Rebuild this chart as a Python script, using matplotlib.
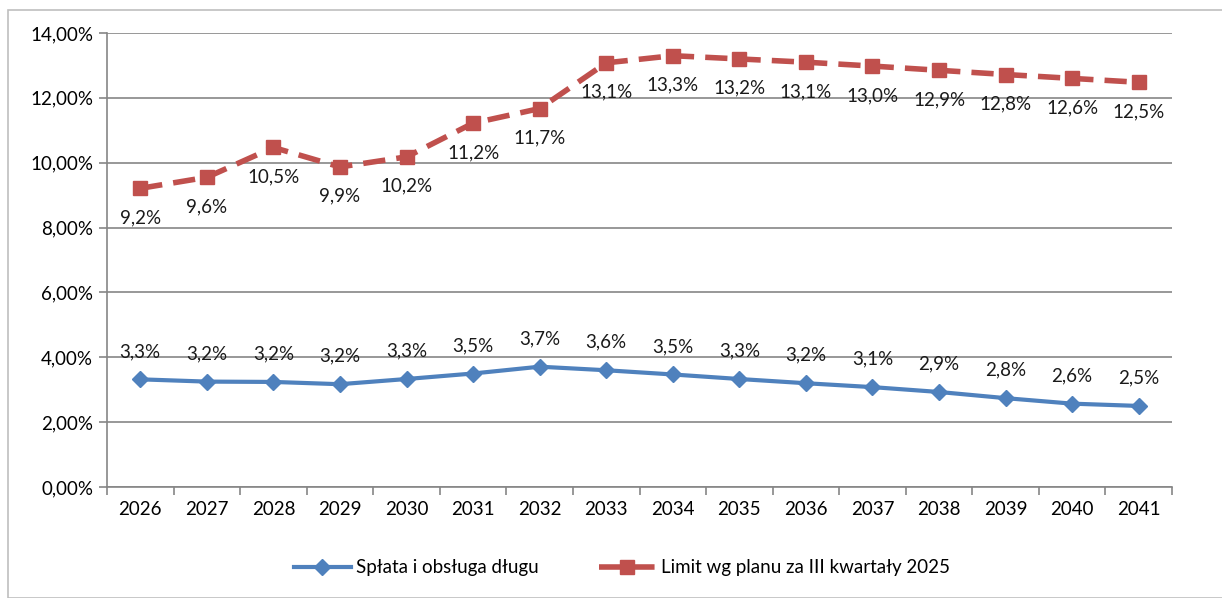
import numpy as np
import matplotlib.pyplot as plt
from matplotlib.patches import Rectangle

years = ['2026', '2027', '2028', '2029', '2030', '2031', '2032', '2033',
         '2034', '2035', '2036', '2037', '2038', '2039', '2040', '2041']
splata = [3.32, 3.25, 3.24, 3.17, 3.33, 3.50, 3.71, 3.60,
          3.47, 3.33, 3.20, 3.08, 2.93, 2.74, 2.57, 2.50]
splata_lbl = ['3,3%', '3,2%', '3,2%', '3,2%', '3,3%', '3,5%', '3,7%', '3,6%',
              '3,5%', '3,3%', '3,2%', '3,1%', '2,9%', '2,8%', '2,6%', '2,5%']
limit = [9.21, 9.55, 10.47, 9.87, 10.18, 11.22, 11.67, 13.08,
         13.30, 13.20, 13.10, 12.98, 12.85, 12.72, 12.60, 12.48]
limit_lbl = ['9,2%', '9,6%', '10,5%', '9,9%', '10,2%', '11,2%', '11,7%', '13,1%',
             '13,3%', '13,2%', '13,1%', '13,0%', '12,9%', '12,8%', '12,6%', '12,5%']

plt.rcParams['font.family'] = ['Lato', 'DejaVu Sans']
grey = '#868686'
blue = '#4F81BD'
red = '#C0504D'
fs = 13.5

fig = plt.figure(figsize=(12.22, 5.98), dpi=100)
fig.patches.append(Rectangle((8/1222, 0), 1.0, 1 - 10/598, transform=fig.transFigure,
                             fill=False, edgecolor='#bfbfbf', linewidth=1.2))
ax = fig.add_axes([107/1222, 1 - 487/598, 1065/1222, 454/598])

x = np.arange(len(years))
ax.plot(x, splata, color=blue, lw=3, marker='D', ms=8, label='Spłata i obsługa długu')
ax.plot(x, limit, color=red, lw=4, ls=(0, (4, 2)), marker='s', ms=10,
        label='Limit wg planu za III kwartały 2025')

for i in x:
    ax.annotate(splata_lbl[i], (i, splata[i]), xytext=(0, 14), textcoords='offset points',
                ha='center', va='bottom', fontsize=fs, color='#1a1a1a')
    ax.annotate(limit_lbl[i], (i, limit[i]), xytext=(0, -15), textcoords='offset points',
                ha='center', va='top', fontsize=fs, color='#1a1a1a')

ax.set_xlim(-0.5, len(years) - 0.5)
ax.set_ylim(0, 14)
ax.set_yticks(np.arange(0, 15, 2))
ax.set_yticklabels([f'{v:.2f}%'.replace('.', ',') for v in np.arange(0, 15, 2)])
ax.set_xticks(x)
ax.set_xticklabels(years)
ax.set_xticks(np.arange(-0.5, len(years)), minor=True)
ax.tick_params(axis='x', which='major', length=0, pad=10, labelsize=fs)
ax.tick_params(axis='x', which='minor', length=6, color=grey, width=1.2)
ax.tick_params(axis='y', length=6, color=grey, width=1.2, pad=4, labelsize=fs)
ax.grid(axis='y', color=grey, lw=1.2)
ax.set_axisbelow(True)
for s in ['top', 'right']:
    ax.spines[s].set_visible(False)
for s in ['left', 'bottom']:
    ax.spines[s].set_color(grey)
    ax.spines[s].set_linewidth(1.2)

fig.legend(loc='center', bbox_to_anchor=(622/1222, 1 - 568/598), ncol=2, frameon=False,
           fontsize=fs, handlelength=3.0, columnspacing=3.2, handletextpad=0.3)

fig.savefig('out.png', dpi=100)
